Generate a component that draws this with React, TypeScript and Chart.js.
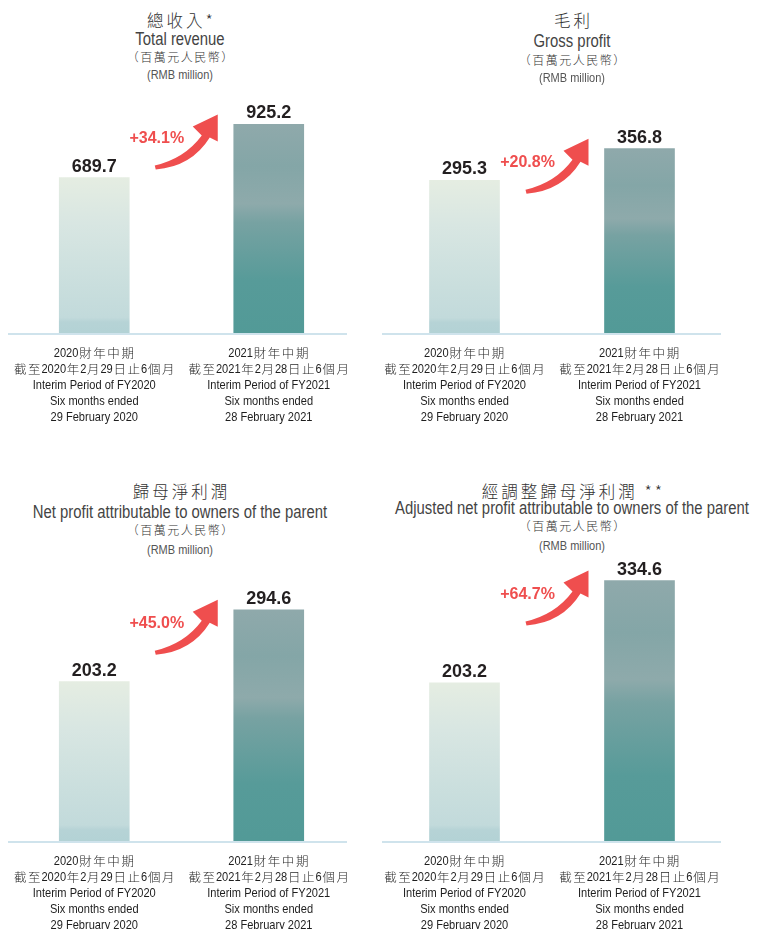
import React, { useEffect, useRef } from "react";
import { Chart, registerables } from "chart.js";

Chart.register(...registerables);

// ---- data ----
const categories: string[][] = [
  ["2020財年中期", "截至2020年2月29日止6個月", "Interim Period of FY2020", "Six months ended", "29 February 2020"],
  ["2021財年中期", "截至2021年2月28日止6個月", "Interim Period of FY2021", "Six months ended", "28 February 2021"],
];
const titlesZh = ["總收入*", "毛利", "歸母淨利潤", "經調整歸母淨利潤 **"];
const titlesEn = [
  "Total revenue",
  "Gross profit",
  "Net profit attributable to owners of the parent",
  "Adjusted net profit attributable to owners of the parent",
];
const unitZh = "（百萬元人民幣）";
const unitEn = "(RMB million)";
const revenue = [689.7, 925.2];
const grossProfit = [295.3, 356.8];
const netProfit = [203.2, 294.6];
const adjustedNetProfit = [203.2, 334.6];
const growthLabels = ["+34.1%", "+20.8%", "+45.0%", "+64.7%"];
const axisMax = [1100, 480, 358, 361];

const seriesList = [revenue, grossProfit, netProfit, adjustedNetProfit];

// ---- layout / style ----
const LATIN = '"Liberation Sans", Arial, Helvetica, sans-serif';
const CJK = '"Noto Sans CJK TC", "Noto Sans CJK SC", sans-serif';
const panels = [
  { left: 7, width: 349, top: 85, baseline: 333, cx: 180, titleY: [20, 39, 57, 75], inset: [1, 9] },
  { left: 377, width: 350, top: 85, baseline: 333, cx: 572, titleY: [20, 41, 60, 78], inset: [5, 6] },
  { left: 7, width: 349, top: 560, baseline: 841, cx: 180, titleY: [491, 512, 530, 550], inset: [1, 9] },
  { left: 377, width: 350, top: 560, baseline: 841, cx: 572, titleY: [491, 508, 526, 546], inset: [5, 6] },
];
const AXIS_H = 104;
const COND = 0.82;

const isCJK = (ch: string) => /[\u3000-\u9fff\uff00-\uffef]/.test(ch);

function splitRuns(s: string) {
  const runs: { cjk: boolean; text: string }[] = [];
  for (const ch of s) {
    const c = isCJK(ch);
    const last = runs[runs.length - 1];
    if (last && last.cjk === c) last.text += ch;
    else runs.push({ cjk: c, text: ch });
  }
  return runs;
}

function drawMixedLine(ctx: CanvasRenderingContext2D, s: string, cx: number, cy: number) {
  const latinFont = `13.5px ${LATIN}`;
  const cjkFont = `300 12.5px ${CJK}`;
  const cjkGap = 1.6;
  const runs = splitRuns(s);
  const widths = runs.map((r) => {
    if (r.cjk) {
      ctx.font = cjkFont;
      let w = 0;
      for (const ch of r.text) w += ctx.measureText(ch).width + cjkGap;
      return w;
    }
    ctx.font = latinFont;
    return ctx.measureText(r.text).width * COND;
  });
  const total = widths.reduce((a, b) => a + b, 0);
  let x = cx - total / 2;
  ctx.textAlign = "left";
  ctx.textBaseline = "middle";
  runs.forEach((r, i) => {
    if (r.cjk) {
      ctx.font = cjkFont;
      ctx.fillStyle = "#2a2a2a";
      for (const ch of r.text) {
        ctx.fillText(ch, x + cjkGap / 2, cy);
        x += ctx.measureText(ch).width + cjkGap;
      }
    } else {
      ctx.font = latinFont;
      ctx.fillStyle = "#1e1e1e";
      ctx.save();
      ctx.translate(x, cy);
      ctx.scale(COND, 1);
      ctx.fillText(r.text, 0, 0);
      ctx.restore();
      x += widths[i];
    }
  });
}

const annotatePlugin = {
  id: "annotate",
  beforeDatasetsDraw(chart: any) {
    const ctx = chart.ctx;
    const area = chart.chartArea;
    const inset = chart.options.plugins.annotate.inset as number[];
    ctx.save();
    ctx.strokeStyle = "#cfe3ec";
    ctx.lineWidth = 2;
    ctx.beginPath();
    ctx.moveTo(area.left + inset[0], area.bottom + 1);
    ctx.lineTo(area.right - inset[1], area.bottom + 1);
    ctx.stroke();
    ctx.restore();
  },
  afterDatasetsDraw(chart: any) {
    const ctx = chart.ctx;
    const meta = chart.getDatasetMeta(0);
    const data = chart.data.datasets[0].data as number[];
    const growth = chart.options.plugins.annotate.growth as string;
    const xScale = chart.scales.x;
    const area = chart.chartArea;
    ctx.save();
    // category labels
    (chart.data.labels as string[][]).forEach((lines, i) => {
      const px = xScale.getPixelForTick(i);
      lines.forEach((line, j) => drawMixedLine(ctx, line, px, area.bottom + 20 + j * 16));
    });
    // value labels
    ctx.fillStyle = "#231f20";
    ctx.font = `bold 18px ${LATIN}`;
    ctx.textAlign = "center";
    ctx.textBaseline = "alphabetic";
    meta.data.forEach((bar: any, i: number) => {
      ctx.fillText(data[i].toFixed(1), bar.x, bar.y - 6);
    });
    // growth arrow anchored at the second bar
    const b2 = meta.data[1];
    const tipX = b2.x - b2.width / 2 - 16;
    const tipY = b2.y - 10;
    ctx.translate(tipX, tipY);
    ctx.fillStyle = "#ef4e4e";
    ctx.beginPath();
    ctx.moveTo(-63, 51);
    ctx.quadraticCurveTo(-33, 44, -16, 21);
    ctx.lineTo(-25, 12);
    ctx.lineTo(0, 0);
    ctx.lineTo(0, 27);
    ctx.lineTo(-8, 23);
    ctx.quadraticCurveTo(-26, 52, -62, 55);
    ctx.closePath();
    ctx.fill();
    ctx.font = `bold 16px ${LATIN}`;
    ctx.textBaseline = "middle";
    ctx.fillText(growth, -61, 24);
    ctx.restore();
  },
};

function barColor(c: any) {
  const chart = c.chart;
  const area = chart.chartArea;
  const idx = c.dataIndex ?? 0;
  if (!area || c.type !== "data") return idx === 0 ? "#cfe0de" : "#6fa1a1";
  const y = chart.scales.y;
  const top = y.getPixelForValue(c.raw);
  const bottom = y.getPixelForValue(0);
  const g = chart.ctx.createLinearGradient(0, top, 0, bottom);
  if (idx === 0) {
    g.addColorStop(0, "#e5ede2");
    g.addColorStop(0.3, "#d8e6e2");
    g.addColorStop(0.7, "#c9dedd");
    g.addColorStop(0.9, "#c2dadb");
    g.addColorStop(0.93, "#b6d3d6");
    g.addColorStop(1, "#b3d2d5");
  } else {
    g.addColorStop(0, "#8fa9ab");
    g.addColorStop(0.2, "#84a6a7");
    g.addColorStop(0.38, "#8eaaab");
    g.addColorStop(0.47, "#77a2a2");
    g.addColorStop(0.75, "#579b99");
    g.addColorStop(1, "#529a97");
  }
  return g;
}

function BarPanel({ index }: { index: number }) {
  const ref = useRef<HTMLCanvasElement>(null);
  const p = panels[index];
  const height = p.baseline - p.top + AXIS_H;
  useEffect(() => {
    if (!ref.current) return;
    const chart = new Chart(ref.current, {
      type: "bar",
      data: {
        labels: categories,
        datasets: [
          {
            data: seriesList[index],
            backgroundColor: barColor,
            barThickness: 70,
            borderWidth: 0,
          },
        ],
      },
      options: {
        animation: false,
        responsive: false,
        maintainAspectRatio: false,
        layout: { padding: { left: 0, right: 0, top: 0, bottom: AXIS_H } },
        plugins: {
          legend: { display: false },
          tooltip: { enabled: false },
          title: { display: false },
          annotate: { growth: growthLabels[index], inset: p.inset },
        } as any,
        scales: {
          x: { display: false, offset: true },
          y: { display: false, min: 0, max: axisMax[index] },
        },
      },
      plugins: [annotatePlugin],
    });
    return () => chart.destroy();
  }, [index]);
  return (
    <canvas
      ref={ref}
      width={p.width}
      height={height}
      style={{ position: "absolute", left: p.left, top: p.top, width: p.width, height }}
    />
  );
}

function TitleLine({
  text,
  cx,
  cy,
  style,
  scaleX = 1,
}: {
  text: string;
  cx: number;
  cy: number;
  style: React.CSSProperties;
  scaleX?: number;
}) {
  return (
    <div
      style={{
        position: "absolute",
        left: cx - 250,
        width: 500,
        top: cy - 11,
        height: 22,
        lineHeight: "22px",
        textAlign: "center",
        whiteSpace: "nowrap",
        transform: `scaleX(${scaleX})`,
        transformOrigin: "50% 50%",
        ...style,
      }}
    >
      {text}
    </div>
  );
}

export default function App() {
  return (
    <div
      style={{
        position: "absolute",
        left: 0,
        top: 0,
        width: 758,
        height: 929,
        overflow: "hidden",
        background: "#ffffff",
      }}
    >
      {panels.map((p, i) => (
        <React.Fragment key={i}>
          <TitleLine
            text={titlesZh[i]}
            cx={p.cx}
            cy={p.titleY[0]}
            style={{ fontFamily: CJK, fontWeight: 300, fontSize: 16.5, letterSpacing: 3, paddingLeft: 3, boxSizing: "border-box", color: "#333" }}
          />
          <TitleLine
            text={titlesEn[i]}
            cx={p.cx}
            cy={p.titleY[1]}
            scaleX={0.85}
            style={{ fontFamily: LATIN, fontSize: 17.5, color: "#444" }}
          />
          <TitleLine
            text={unitZh}
            cx={p.cx}
            cy={p.titleY[2]}
            style={{ fontFamily: CJK, fontWeight: 300, fontSize: 12, letterSpacing: 1.5, paddingLeft: 1.5, boxSizing: "border-box", color: "#333" }}
          />
          <TitleLine
            text={unitEn}
            cx={p.cx}
            cy={p.titleY[3]}
            scaleX={0.88}
            style={{ fontFamily: LATIN, fontSize: 12.5, color: "#555" }}
          />
          <BarPanel index={i} />
        </React.Fragment>
      ))}
    </div>
  );
}
